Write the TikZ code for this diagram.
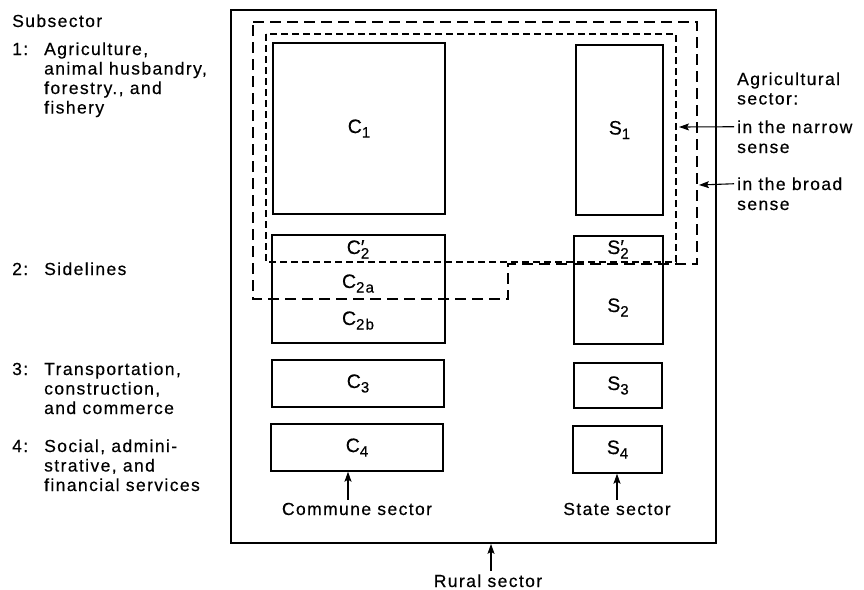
\documentclass[tikz,border=0pt]{standalone}
\usepackage{fontspec}
\setmainfont{Liberation Sans}[LetterSpace=8,FakeBold=0.4]
\usetikzlibrary{arrows.meta}
\newcommand\sbs[1]{\raisebox{-4.5pt}{\fontsize{15}{15}\selectfont #1}}
\newcommand\psb[1]{\rlap{\raisebox{0.5pt}{′}}\sbs{#1}}
\newcommand\lnx[1]{\hbox{#1}}
\newcommand\stk[1]{\vtop{\baselineskip=19.5pt\relax #1}}
\tikzset{
  txt/.style={font=\fontsize{17.5}{19.5}\selectfont, inner sep=0pt, anchor=base west},
  ctxt/.style={font=\fontsize{17.5}{19.5}\selectfont, inner sep=0pt, anchor=base},
  lbl/.style={font=\fontsize{19.5}{20}\selectfont, inner sep=0pt, anchor=base},
  cbox/.style n args={2}{draw, line width=1.4pt, inner sep=0pt,
    minimum width=#1, minimum height=#2, font=\fontsize{19.5}{20}\selectfont},
  narrowdash/.style={line width=1.2pt, dash pattern=on 7pt off 4pt},
  broaddash/.style={line width=2pt, dash pattern=on 11pt off 6pt},
  arr/.style={line width=1.1pt, -{Stealth[length=10pt,width=7pt,inset=2pt]}}
}
\begin{document}
\begin{tikzpicture}[x=1pt,y=-1pt]
\useasboundingbox (0,0) rectangle (864,589);

% rural sector frame
\node[cbox={485pt}{533pt}, line width=1.7pt] (rural) at (473.5,276.5) {};

% commune sector boxes
\node[cbox={172pt}{171pt}] (c1) at (359,128.5) {C\sbs{1}};
\node[cbox={173pt}{108pt}] (c2) at (358.5,289) {};
\node[lbl] (c2p) at (358,254) {C\psb{2}};
\node[lbl] (c2a) at (358,288) {C\sbs{2a}};
\node[lbl] (c2b) at (358,325) {C\sbs{2b}};
\node[cbox={172pt}{47pt}] (c3) at (358,383.5) {C\sbs{3}};
\node[cbox={172pt}{47pt}] (c4) at (357,447.5) {C\sbs{4}};

% state sector boxes
\node[cbox={87pt}{170pt}] (s1) at (619.5,130) {S\sbs{1}};
\node[cbox={89pt}{108pt}] (s2) at (618.5,290) {};
\node[lbl] (s2p) at (618,254) {S\psb{2}};
\node[lbl] (s2m) at (618,312) {S\sbs{2}};
\node[cbox={88pt}{45pt}] (s3) at (618,385.5) {S\sbs{3}};
\node[cbox={89pt}{47pt}] (s4) at (617.5,449.5) {S\sbs{4}};

% agricultural sector outlines
\draw[narrowdash] (266,34) rectangle (676,262);
\draw[broaddash] (253,22) -- (697,22) -- (697,264) -- (508,264) -- (508,299) -- (253,299) -- cycle;

% left labels
\node[txt] (sub) at (12,27) {Subsector};
\node[txt] (n1) at (12,55) {1:};
\node[txt] (t1) at (44,55) {\stk{\lnx{Agriculture,}\lnx{animal husbandry,}\lnx{forestry., and}\lnx{fishery}}};
\node[txt] (n2) at (12,275) {2:};
\node[txt] (t2) at (44,275) {Sidelines};
\node[txt] (n3) at (12,375) {3:};
\node[txt] (t3) at (44,375) {\stk{\lnx{Transportation,}\lnx{construction,}\lnx{and commerce}}};
\node[txt] (n4) at (12,452) {4:};
\node[txt] (t4) at (44,452) {\stk{\lnx{Social, admini-}\lnx{strative, and}\lnx{financial services}}};

% right labels
\node[txt] (ag) at (737,85) {\stk{\lnx{Agricultural}\lnx{sector:}}};
\node[txt] (nar) at (737,133) {in the narrow};
\node[txt] (nars) at (737,153) {sense};
\node[txt] (brd) at (737,190) {in the broad};
\node[txt] (brds) at (737,210) {sense};
\coordinate (narpt) at (679,127);
\coordinate (brdpt) at (699,185);
\draw[arr] ([xshift=-3pt]nar.west) -- (narpt);
\draw[arr] ([xshift=-3pt]brd.west) -- (brdpt);

% bottom labels
\node[ctxt] (cs) at (357,515) {Commune sector};
\node[ctxt] (ss) at (617,515) {State sector};
\node[ctxt] (rs) at (488,587) {Rural sector};
\draw[arr] ([xshift=-9pt,yshift=3pt]cs.north) -- ([xshift=-9pt]cs.north |- c4.south);
\draw[arr] ([yshift=3pt]ss.north) -- (ss.north |- s4.south);
\draw[arr] ([xshift=3pt,yshift=3pt]rs.north) -- ([xshift=3pt]rs.north |- rural.south);
\end{tikzpicture}
\end{document}
